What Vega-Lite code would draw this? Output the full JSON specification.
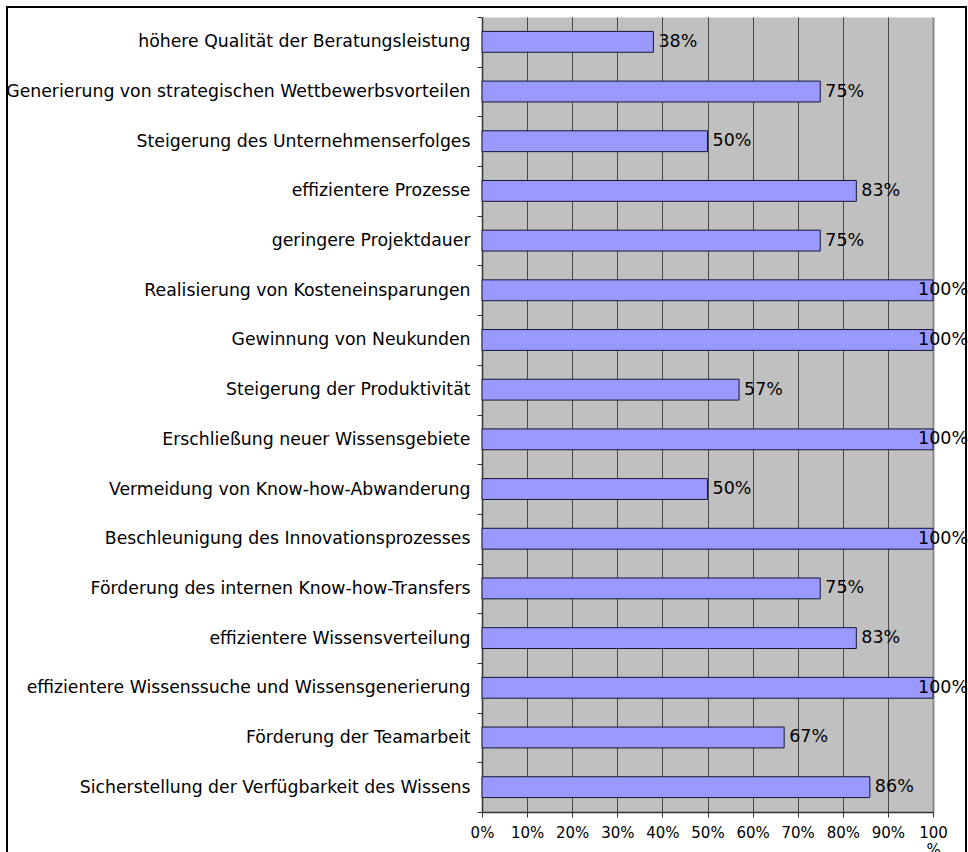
{
  "$schema": "https://vega.github.io/schema/vega-lite/v6.json",
  "width": 959,
  "height": 853,
  "padding": {"left": 7, "top": 7, "right": 2, "bottom": 0},
  "autosize": {"type": "none"},
  "background": "#ffffff",
  "config": {
    "view": {"stroke": "#000000", "strokeWidth": 2},
    "font": "DejaVu Sans"
  },
  "data": {
    "values": [
      {"ziel": "höhere Qualität der Beratungsleistung", "anteil": 0.38},
      {"ziel": "Generierung von strategischen Wettbewerbsvorteilen", "anteil": 0.75},
      {"ziel": "Steigerung des Unternehmenserfolges", "anteil": 0.50},
      {"ziel": "effizientere Prozesse", "anteil": 0.83},
      {"ziel": "geringere Projektdauer", "anteil": 0.75},
      {"ziel": "Realisierung von Kosteneinsparungen", "anteil": 1.00},
      {"ziel": "Gewinnung von Neukunden", "anteil": 1.00},
      {"ziel": "Steigerung der Produktivität", "anteil": 0.57},
      {"ziel": "Erschließung neuer Wissensgebiete", "anteil": 1.00},
      {"ziel": "Vermeidung von Know-how-Abwanderung", "anteil": 0.50},
      {"ziel": "Beschleunigung des Innovationsprozesses", "anteil": 1.00},
      {"ziel": "Förderung des internen Know-how-Transfers", "anteil": 0.75},
      {"ziel": "effizientere Wissensverteilung", "anteil": 0.83},
      {"ziel": "effizientere Wissenssuche und Wissensgenerierung", "anteil": 1.00},
      {"ziel": "Förderung der Teamarbeit", "anteil": 0.67},
      {"ziel": "Sicherstellung der Verfügbarkeit des Wissens", "anteil": 0.86}
    ]
  },
  "encoding": {
    "y": {
      "field": "ziel",
      "type": "nominal",
      "sort": null,
      "scale": {"range": [10, 805], "paddingInner": 0, "paddingOuter": 0},
      "axis": {
        "title": null,
        "orient": "left",
        "offset": -475,
        "grid": false,
        "tickBand": "extent",
        "tickSize": 5,
        "tickColor": "#333333",
        "domainColor": "#333333",
        "domainWidth": 1.5,
        "labelFont": "DejaVu Sans",
        "labelFontSize": 17.3,
        "labelColor": "#000000",
        "labelPadding": 7,
        "labelLimit": 0
      }
    }
  },
  "layer": [
    {
      "mark": {"type": "bar", "height": {"band": 0.42}, "fill": "#9999ff", "stroke": "#151535", "strokeWidth": 1},
      "encoding": {
        "x": {
          "field": "anteil",
          "type": "quantitative",
          "scale": {"domain": [0, 1], "range": [475, 926], "nice": false, "zero": true},
          "axis": {
            "orient": "top",
            "title": null,
            "values": [0.5],
            "grid": true,
            "gridColor": "#c0c0c0",
            "gridOpacity": 1,
            "gridWidth": 451,
            "domain": false,
            "ticks": false,
            "labels": false
          }
        }
      }
    },
    {
      "transform": [{"filter": "datum.anteil < 1"}],
      "mark": {"type": "text", "align": "left", "baseline": "middle", "dx": 5, "font": "DejaVu Sans", "fontSize": 17.5, "color": "#000000"},
      "encoding": {
        "x": {
          "field": "anteil",
          "type": "quantitative",
          "scale": {"domain": [0, 1], "range": [475, 926], "nice": false, "zero": true},
          "axis": {
            "orient": "top",
            "title": null,
            "values": [0, 0.1, 0.2, 0.3, 0.4, 0.5, 0.6, 0.7, 0.8, 0.9, 1],
            "grid": true,
            "gridColor": {"condition": {"test": "datum.value >= 1", "value": "#8a8a8a"}, "value": "#484848"},
            "gridWidth": {"condition": {"test": "datum.value >= 1", "value": 2}, "value": 1},
            "gridOpacity": 1,
            "domain": false,
            "ticks": false,
            "labels": false
          }
        },
        "text": {"field": "anteil", "type": "quantitative", "format": ".0%"}
      }
    },
    {
      "transform": [{"filter": "datum.anteil >= 1"}],
      "mark": {"type": "text", "align": "left", "baseline": "middle", "dx": -15, "font": "DejaVu Sans", "fontSize": 17.5, "color": "#000000"},
      "encoding": {
        "x": {
          "field": "anteil",
          "type": "quantitative",
          "scale": {"domain": [0, 1], "range": [475, 926], "nice": false, "zero": true},
          "axis": {
            "orient": "bottom",
            "offset": -48,
            "title": null,
            "values": [0, 0.1, 0.2, 0.3, 0.4, 0.5, 0.6, 0.7, 0.8, 0.9, 1],
            "format": ".0%",
            "labelExpr": "datum.value >= 1 ? ['100', '%'] : datum.label",
            "grid": false,
            "domainColor": "#333333",
            "domainWidth": 1.5,
            "tickColor": "#333333",
            "tickSize": 5,
            "labelFont": "DejaVu Sans",
            "labelFontSize": 15,
            "labelColor": "#000000",
            "labelPadding": 8,
            "labelLineHeight": 17,
            "labelFlush": false,
            "labelOverlap": false,
            "labelBound": false
          }
        },
        "text": {"field": "anteil", "type": "quantitative", "format": ".0%"}
      }
    }
  ],
  "resolve": {"axis": {"x": "independent"}}
}
